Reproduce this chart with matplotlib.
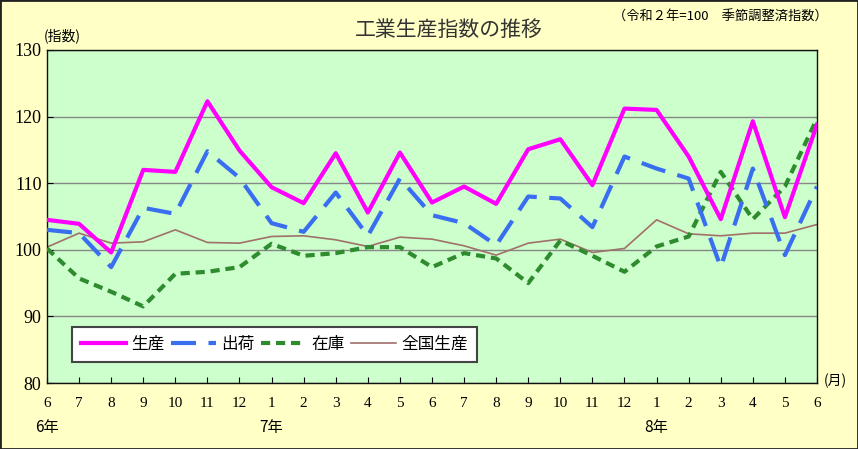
import matplotlib.pyplot as plt
from matplotlib.patches import Rectangle

plt.rcParams['font.family'] = ['Noto Sans CJK JP', 'DejaVu Sans']

months = ['6', '7', '8', '9', '10', '11', '12', '1', '2', '3', '4', '5', '6',
          '7', '8', '9', '10', '11', '12', '1', '2', '3', '4', '5', '6']
years = {0: '6年', 7: '7年', 19: '8年'}

seisan = [104.5, 103.9, 99.6, 112.0, 111.7, 122.3, 114.9, 109.4, 107.0, 114.5, 105.6, 114.6, 107.1,
          109.5, 106.9, 115.1, 116.6, 109.7, 121.2, 121.0, 114.0, 104.6, 119.3, 104.9, 118.8]
shukka = [103.0, 102.5, 97.4, 106.3, 105.4, 114.8, 110.8, 104.0, 102.7, 108.6, 102.1, 110.7, 105.2,
          104.0, 100.7, 108.0, 107.7, 103.4, 114.0, 112.2, 110.7, 97.4, 112.2, 99.2, 109.5]
zaiko = [100.2, 95.7, 93.7, 91.5, 96.4, 96.7, 97.4, 100.9, 99.1, 99.5, 100.4, 100.4, 97.4,
         99.5, 98.7, 95.0, 101.4, 99.1, 96.7, 100.5, 102.0, 111.7, 104.6, 109.5, 119.7]
zenkoku = [100.4, 102.5, 101.0, 101.2, 103.0, 101.1, 101.0, 102.0, 102.1, 101.5, 100.5, 101.9, 101.6,
           100.6, 99.2, 101.0, 101.6, 99.6, 100.2, 104.5, 102.4, 102.1, 102.5, 102.5, 103.8]

fig = plt.figure(figsize=(8.58, 4.49), dpi=100, facecolor='#FFFFC6')
fig.patches.append(Rectangle((0, 0), 1, 1, transform=fig.transFigure, fill=False,
                             edgecolor='#222222', linewidth=2))
ax = fig.add_axes([47 / 858, 66 / 449, 770 / 858, 333 / 449])
ax.set_facecolor('#CCFFCC')

x = list(range(len(months)))
ax.plot(x, seisan, color='#FF00FF', lw=3, label='生産', zorder=5)
ax.plot(x, shukka, color='#3A6EF0', lw=3, dashes=(6, 3), label='出荷', zorder=4)
ax.plot(x, zaiko, color='#2E8B2E', lw=3, dashes=(2.2, 1.4), label='在庫', zorder=3)
ax.plot(x, zenkoku, color='#A0706A', lw=1.2, label='全国生産', zorder=2)

ax.set_xlim(0, 24)
ax.set_ylim(80, 130)
ax.set_yticks([80, 90, 100, 110, 120, 130])
ax.yaxis.grid(True, color='#888888', lw=1)
ax.set_axisbelow(True)
ax.set_xticks(x)
ax.set_xticklabels(months, family='Liberation Serif', fontsize=11)
ax.set_yticklabels(['80', '90', '100', '110', '120', '130'], family='Liberation Serif', fontsize=13)
ax.tick_params(axis='x', direction='in', length=4, pad=10)
ax.tick_params(axis='y', direction='in', length=4, pad=4)
for s in ax.spines.values():
    s.set_color('#111111')
    s.set_linewidth(1)

for i, lab in years.items():
    ax.text(i, -0.135, lab, transform=ax.get_xaxis_transform(), ha='center', va='center',
            fontsize=11)

fig.text(449 / 858, 1 - 30 / 449, '工業生産指数の推移', ha='center', va='center',
         fontsize=15, color='#333333')
fig.text(720 / 858, 1 - 17 / 449, '（令和２年=100　季節調整済指数）', ha='center', va='center',
         fontsize=9.5)
fig.text(62 / 858, 1 - 36 / 449, '(指数)', ha='center', va='center', fontsize=10)
fig.text(835 / 858, 1 - 381 / 449, '(月)', ha='center', va='center', fontsize=10)

leg = ax.legend(loc='lower left', bbox_to_anchor=(25 / 770, 21 / 333), ncol=4, fontsize=12,
                handlelength=2.7, handletextpad=0.3, columnspacing=0.4, borderpad=0.55,
                fancybox=False, framealpha=1, borderaxespad=0)
leg.get_frame().set_edgecolor('#444444')
leg.get_frame().set_linewidth(1.5)

fig.savefig('out.png', dpi=100, facecolor=fig.get_facecolor())
